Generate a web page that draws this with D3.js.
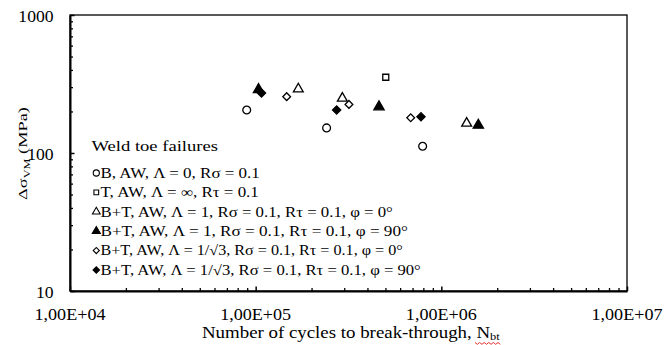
<!DOCTYPE html>
<html>
<head>
<meta charset="utf-8">
<script src="https://cdn.jsdelivr.net/npm/d3@7"></script>
<style>
  body { margin: 0; background: #fff; }
  svg text { font-family: "Liberation Serif", "Times New Roman", serif; fill: #000; }
</style>
</head>
<body>
<svg id="chart" width="667" height="345"></svg>
<script>
// cycles to break-through (x) and von Mises stress range in MPa (y)
const bAwX = [89500, 241000, 793000];
const bAwY = [205, 152, 112];
const tAwX = [502000];
const tAwY = [354];
const bt1Phi0X = [169700, 293000, 1369000];
const bt1Phi0Y = [291, 249, 164];
const bt1Phi90X = [103600, 461600, 1582000];
const bt1Phi90Y = [288, 216, 159];
const btR3Phi0X = [146900, 318000, 684000];
const btR3Phi0Y = [256, 225, 180];
const btR3Phi90X = [107500, 273000, 777000];
const btR3Phi90Y = [272, 205, 183];

const xTickVals = [1e4, 1e5, 1e6, 1e7];
const xTickLabels = ["1,00E+04", "1,00E+05", "1,00E+06", "1,00E+07"];
const yTickVals = [10, 100, 1000];
const yTickLabels = ["10", "100", "1000"];

const legendTitle = "Weld toe failures";
const legendLabels = [
  "B, AW, Λ = 0, Rσ = 0.1",
  "T, AW, Λ = ∞, Rτ = 0.1",
  "B+T, AW, Λ = 1, Rσ = 0.1, Rτ = 0.1, φ = 0°",
  "B+T, AW, Λ = 1, Rσ = 0.1, Rτ = 0.1, φ = 90°",
  "B+T, AW, Λ = 1/√3, Rσ = 0.1, Rτ = 0.1, φ = 0°",
  "B+T, AW, Λ = 1/√3, Rσ = 0.1, Rτ = 0.1, φ = 90°"
];

const series = [
  { xs: bAwX, ys: bAwY, shape: d3.symbolCircle, size: 48, rot: 0, fill: "#fff" },
  { xs: tAwX, ys: tAwY, shape: d3.symbolSquare, size: 36, rot: 0, fill: "#fff" },
  { xs: bt1Phi0X, ys: bt1Phi0Y, shape: d3.symbolTriangle, size: 42, rot: 0, fill: "#fff" },
  { xs: bt1Phi90X, ys: bt1Phi90Y, shape: d3.symbolTriangle, size: 46, rot: 0, fill: "#000" },
  { xs: btR3Phi0X, ys: btR3Phi0Y, shape: d3.symbolSquare, size: 30, rot: 45, fill: "#fff" },
  { xs: btR3Phi90X, ys: btR3Phi90Y, shape: d3.symbolSquare, size: 34, rot: 45, fill: "#000" }
];

// the reference text is a little stretched sideways, so each label is fitted to a width
const legendRowEnds = [260, 259, 393, 408, 403, 421];

const plotLeft = 70, plotRight = 627, plotTop = 15, plotBottom = 291;

const svg = d3.select('#chart');

const x = d3.scaleLog().domain([1e4, 1e7]).range([plotLeft, plotRight]);
const y = d3.scaleLog().domain([10, 1000]).range([plotBottom, plotTop]);

function fitText(px, py, anchor, width, size, build, rot) {
  const base = 'translate(' + px + ',' + py + ')' + (rot ? ' rotate(' + rot + ')' : '');
  const g = svg.append('g').attr('transform', base);
  const t = g.append('text').attr('text-anchor', anchor).attr('font-size', size);
  build(t);
  const w = t.node().getBBox().width;
  g.attr('transform', base + ' scale(' + (width / w) + ',1)');
  return g;
}

// minor ticks, 2..9 of each decade
const minor = [];
for (let e = 0; e < 3; e++) {
  for (let m = 2; m < 10; m++) minor.push(m * Math.pow(10, e));
}

// frame
svg.append('rect')
  .attr('x', plotLeft).attr('y', plotTop)
  .attr('width', plotRight - plotLeft).attr('height', plotBottom - plotTop)
  .attr('fill', 'none').attr('stroke', '#000').attr('stroke-width', 1.3);

// x axis
svg.append('g')
  .attr('transform', 'translate(0,' + plotBottom + ')')
  .call(d3.axisBottom(x).tickValues(minor.map(d => d * 1e4)).tickSizeInner(-3).tickSizeOuter(0).tickFormat(''))
  .call(g => g.select('.domain').remove())
  .call(g => g.selectAll('line').attr('stroke-width', 1.3));

svg.append('g')
  .attr('transform', 'translate(0,' + plotBottom + ')')
  .call(d3.axisBottom(x).tickValues(xTickVals).tickSizeInner(-4.5).tickSizeOuter(0).tickFormat(''))
  .call(g => g.select('.domain').attr('stroke-width', 2))
  .call(g => g.selectAll('line').attr('stroke-width', 1.5));

xTickVals.forEach((v, i) => {
  fitText(x(v), 320, 'middle', 71, 16, t => t.text(xTickLabels[i]));
});

// y axis
svg.append('g')
  .attr('transform', 'translate(' + plotLeft + ',0)')
  .call(d3.axisLeft(y).tickValues(minor.map(d => d * 10)).tickSizeInner(-3).tickSizeOuter(0).tickFormat(''))
  .call(g => g.select('.domain').remove())
  .call(g => g.selectAll('line').attr('stroke-width', 1.3));

svg.append('g')
  .attr('transform', 'translate(' + plotLeft + ',0)')
  .call(d3.axisLeft(y).tickValues(yTickVals).tickSizeInner(-4.5).tickSizeOuter(0).tickFormat(''))
  .call(g => g.select('.domain').attr('stroke-width', 2))
  .call(g => g.selectAll('line').attr('stroke-width', 1.5));

yTickVals.forEach((v, i) => {
  fitText(53.5, y(v) + 6.5, 'end', yTickLabels[i].length * 8.8, 16, t => t.text(yTickLabels[i]));
});

// y title, rotated, fitted along its length
fitText(27, 153.5, 'middle', 93, 13.5, t => {
  t.append('tspan').text('Δσ');
  t.append('tspan').attr('font-size', 9).attr('dy', 2.5).text('VM');
  t.append('tspan').attr('dy', -2.5).text(' (MPa)');
}, -90);

// x title
fitText(202, 337.5, 'start', 298, 16, t => {
  t.append('tspan').text('Number of cycles to break-through, N');
  t.append('tspan').attr('font-size', 10.5).attr('dy', 2.5).text('bt');
});

// spell-check squiggle under the subscript
svg.append('path')
  .attr('d', d3.line()(d3.range(0, 12).map(i => [475 + i * 2.3, 342.5 + (i % 2 ? 1.8 : 0)])))
  .attr('fill', 'none').attr('stroke', '#e03030').attr('stroke-width', 1);

// data points
series.forEach(s => {
  svg.append('g').selectAll('path')
    .data(s.xs.map((v, i) => [v, s.ys[i]]))
    .enter()
    .append('path')
    .attr('d', d3.symbol().type(s.shape).size(s.size))
    .attr('transform', d => 'translate(' + x(d[0]) + ',' + y(d[1]) + ') rotate(' + s.rot + ')')
    .attr('fill', s.fill)
    .attr('stroke', '#000')
    .attr('stroke-width', 1.3);
});

// legend
fitText(91.5, 151, 'start', 126.6, 15.5, t => t.text(legendTitle));

const rowY = d3.scaleLinear().domain([0, 5]).range([173, 270]);
legendLabels.forEach((label, i) => {
  const s = series[i];
  svg.append('path')
    .attr('d', d3.symbol().type(s.shape).size(s.size * 0.62))
    .attr('transform', 'translate(96.3,' + rowY(i) + ') rotate(' + s.rot + ')')
    .attr('fill', s.fill).attr('stroke', '#000').attr('stroke-width', 1.1);
  fitText(100.5, rowY(i) + 4.8, 'start', legendRowEnds[i] - 100.5, 14, t => t.text(label));
});
</script>
</body>
</html>
